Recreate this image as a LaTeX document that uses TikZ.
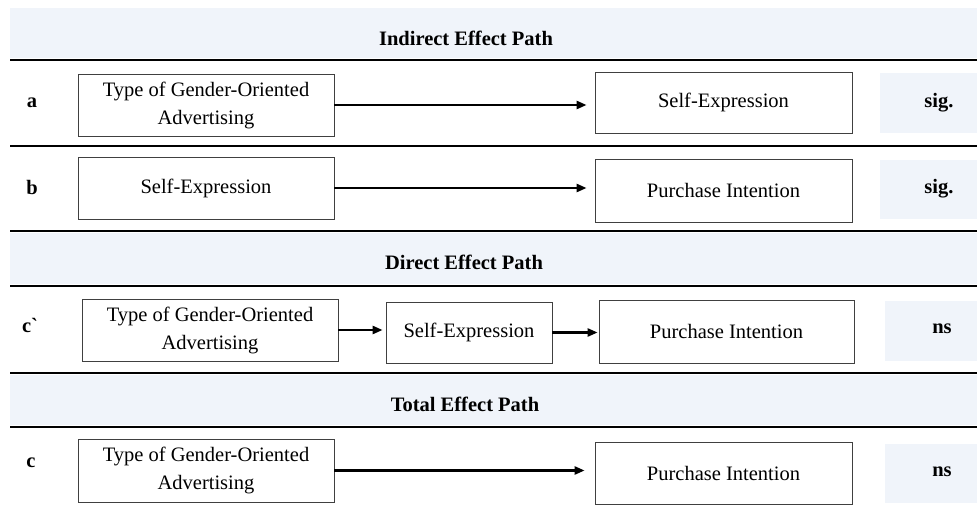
\documentclass[tikz,border=0pt]{standalone}
\usepackage{fontspec}
\setmainfont{Liberation Serif}
\newfontfamily\rawserif{Liberation Serif}
\usetikzlibrary{arrows.meta}
\definecolor{bandblue}{RGB}{240,244,250}
\begin{document}
\begin{tikzpicture}[x=1pt, y=-1pt,
    font=\fontsize{20.5}{28}\selectfont,
    varbox/.style={draw=black!75, line width=0.8pt, fill=white, align=center, inner sep=0pt},
    rule/.style={line width=2.6pt, black},
    flow/.style={line width=2.4pt, -{Triangle[length=10pt, width=8pt]}},
    tag/.style={font=\fontsize{20.5}{25}\selectfont\bfseries}]
    \useasboundingbox (0,0) rectangle (977,510);

    % 间接效应
    \fill[bandblue] (10,8) rectangle (977,58);
    \node[tag] (hind) at (466,38) {Indirect Effect Path};
    \draw[rule] (10,60) -- (977,60);

    % a
    \node[tag] (la) at (32,103) {a};
    \node[varbox, minimum width=256pt, minimum height=62pt] (A1) at (206,105) {Type of Gender-Oriented\\Advertising};
    \node[varbox, minimum width=257pt, minimum height=61pt] (A2) at (723.5,102.5) {Self-Expression};
    \fill[bandblue] (880,73) rectangle (977,133);
    \node[tag] (sa) at (939,103) {sig.};
    \draw[flow, shorten >=8pt] (A1.east) -- (A1.east -| A2.west);
    \draw[rule] (10,146) -- (977,146);

    % b
    \node[tag] (lb) at (32,187) {b};
    \node[varbox, minimum width=256pt, minimum height=62pt] (B1) at (206,188) {Self-Expression};
    \node[varbox, minimum width=257pt, minimum height=63pt] (B2) at (723.5,190.5) {Purchase Intention};
    \fill[bandblue] (880,160) rectangle (977,219);
    \node[tag] (sb) at (939,189) {sig.};
    \draw[flow, shorten >=8pt] (B1.east) -- (B1.east -| B2.west);
    \draw[rule] (10,231) -- (977,231);

    % 直接效应
    \fill[bandblue] (10,233) rectangle (977,284);
    \node[tag] (hdir) at (464,262) {Direct Effect Path};
    \draw[rule] (10,286) -- (977,286);

    % c`
    \node[tag] (lc1) at (30,325) {\rawserif c`};
    \node[varbox, minimum width=256pt, minimum height=62pt] (C1) at (210,330) {Type of Gender-Oriented\\Advertising};
    \node[varbox, minimum width=166pt, minimum height=61pt] (C2) at (469,332.5) {Self-Expression};
    \node[varbox, minimum width=255pt, minimum height=63pt] (C3) at (726.5,331.5) {Purchase Intention};
    \fill[bandblue] (885,301) rectangle (977,361);
    \node[tag] (sc1) at (942,329) {ns};
    \draw[flow, shorten >=3pt] (C1.east) -- (C1.east -| C2.west);
    \draw[flow, shorten >=1pt] (C2.east) -- (C2.east -| C3.west);
    \draw[rule] (10,373) -- (977,373);

    % 总效应
    \fill[bandblue] (10,375) rectangle (977,425);
    \node[tag] (htot) at (465,404) {Total Effect Path};
    \draw[rule] (10,427) -- (977,427);

    % c
    \node[tag] (lc) at (31,463) {c};
    \node[varbox, minimum width=256pt, minimum height=63pt] (D1) at (206,470.5) {Type of Gender-Oriented\\Advertising};
    \node[varbox, minimum width=257pt, minimum height=62pt] (D2) at (723.5,473) {Purchase Intention};
    \fill[bandblue] (885,444) rectangle (977,503);
    \node[tag] (sc) at (942,472) {ns};
    \draw[flow, shorten >=10pt] (D1.east) -- (D1.east -| D2.west);
\end{tikzpicture}
\end{document}
